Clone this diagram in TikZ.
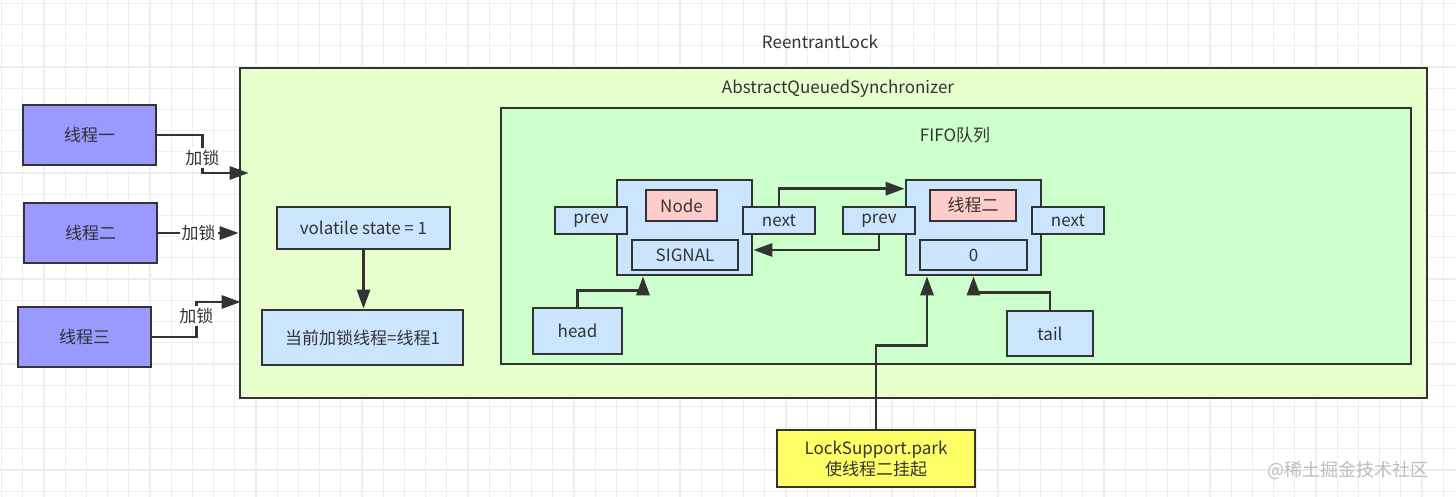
\documentclass[tikz,border=0pt]{standalone}
\usepackage{fontspec}
\setmainfont{Noto Sans CJK SC}
\usetikzlibrary{arrows.meta}
\definecolor{linec}{HTML}{333333}
\definecolor{textc}{HTML}{333333}
\definecolor{gridc}{HTML}{EDEDED}
\definecolor{thrf}{HTML}{9999FF}
\definecolor{aqsf}{HTML}{E6FFCC}
\definecolor{fifof}{HTML}{CCFFCC}
\definecolor{bluef}{HTML}{CCE5FF}
\definecolor{pinkf}{HTML}{FFCCCC}
\definecolor{yelf}{HTML}{FFFF66}
\definecolor{wmc}{HTML}{BDBDBD}
\tikzset{
  box/.style={draw=linec, line width=1.3pt, text=textc, inner sep=0pt, font=\fontsize{8.5pt}{10.5pt}\selectfont},
  lbl/.style={text=textc, inner sep=0pt, font=\fontsize{8.5pt}{10.5pt}\selectfont},
  arr/.style={draw=linec, line width=1.4pt, -{Triangle[length=9.5pt,width=6.5pt]}},
  lockl/.style={lbl, fill=white, inner sep=1pt},
}
\begin{document}
\begin{tikzpicture}[x=0.5pt,y=-0.5pt]
\useasboundingbox (0,0) rectangle (1456,497);
\clip (0,0) rectangle (1456,497);
\fill[white] (0,0) rectangle (1456,497);
\foreach \i in {0,...,68} {
  \draw[gridc, line width=0.6pt] ({1.5+21.2*\i},0) -- ({1.5+21.2*\i},497);
}
\foreach \j in {0,...,23} {
  \draw[gridc, line width=0.6pt] (0,{3.5+21.2*\j}) -- (1456,{3.5+21.2*\j});
}
% labels
\node[lbl] (rl) at (820,42) {ReentrantLock};
% containers
\node[box, fill=aqsf, draw=linec, minimum width=593.5pt, minimum height=165pt] (AQS) at (833.5,233) {};
\node[lbl] (aqsl) at (838,89) {AbstractQueuedSynchronizer};
\node[box, fill=fifof, minimum width=455pt, minimum height=128pt] (FIFO) at (956,236) {};
\node[lbl] (fifol) at (955,135) {FIFO队列};
% threads
\node[box, fill=thrf, minimum width=66.5pt, minimum height=30pt] (T1) at (89.5,135) {线程一};
\node[box, fill=thrf, minimum width=66.5pt, minimum height=30pt] (T2) at (90.5,233) {线程二};
\node[box, fill=thrf, minimum width=66.5pt, minimum height=30pt] (T3) at (84.5,337) {线程三};
% state
\node[box, fill=bluef, minimum width=86.5pt, minimum height=21pt] (vol) at (363.5,228) {volatile state = 1};
\node[box, fill=bluef, minimum width=100.5pt, minimum height=27.5pt] (cur) at (362.5,337.5) {当前加锁线程=线程1};
% node 1
\node[box, fill=bluef, minimum width=67.5pt, minimum height=47.5pt] (N1) at (684.5,227.5) {};
\node[box, fill=pinkf, minimum width=35.5pt, minimum height=15.5pt] (N1n) at (681.5,205.5) {Node};
\node[box, fill=bluef, minimum width=53pt, minimum height=15pt] (SIG) at (685,255) {SIGNAL};
\node[box, fill=bluef, minimum width=36pt, minimum height=13.5pt] (prev1) at (591,220.5) {prev};
\node[box, fill=bluef, minimum width=36pt, minimum height=13.5pt] (next1) at (779,220.5) {next};
% node 2
\node[box, fill=bluef, minimum width=67.5pt, minimum height=47.5pt] (N2) at (973.5,227.5) {};
\node[box, fill=pinkf, minimum width=43pt, minimum height=15.5pt] (N2n) at (973,205.5) {线程二};
\node[box, fill=bluef, minimum width=53.5pt, minimum height=15pt] (zero) at (973.5,255) {0};
\node[box, fill=bluef, minimum width=36pt, minimum height=13.5pt] (prev2) at (879,220.5) {prev};
\node[box, fill=bluef, minimum width=36pt, minimum height=13.5pt] (next2) at (1068,220.5) {next};
% head / tail
\node[box, fill=bluef, minimum width=44.5pt, minimum height=23pt] (head) at (577.5,331) {head};
\node[box, fill=bluef, minimum width=43pt, minimum height=22.5pt] (tail) at (1050,333.5) {tail};
% LockSupport
\node[box, fill=yelf, minimum width=99pt, minimum height=28.5pt, align=center] (LS) at (876,458.5) {LockSupport.park\\使线程二挂起};
% watermark
\node[text=wmc, inner sep=0pt, font=\fontsize{9pt}{10pt}\selectfont] (wm) at (1348,470) {@稀土掘金技术社区};
% connector end points
\coordinate (t1end) at ([xshift=5pt,yshift=30pt]AQS.west);
\coordinate (t3end) at ([xshift=1pt,yshift=-34.5pt]AQS.west);
% thread arrows
\draw[arr] (T1.east) -- ++(45,0) |- (t1end) node[lockl, pos=0.3] {加锁};
\draw[arr] (T2.east) -- (T2.east -| AQS.west) node[lockl, midway] {加锁};
\draw[arr] (T3.east) -- ++(44,0) |- (t3end) node[lockl, pos=0.3] {加锁};
% state arrow
\draw[arr] (vol.south) -- (vol.south |- cur.north);
% queue links
\draw[arr] (next1.north) |- ([yshift=-5pt]N2.north west);
\draw[arr] (prev2.south) |- ([yshift=-11.25pt]N1.east);
\draw[arr] (head.north) -- ++(0,-16) -| ([xshift=-20.75pt]N1.south);
\draw[arr] (tail.north) -- ++(0,-17) -| (N2.south);
\draw[arr] (LS.north) -- ++(0,-83) -| ([xshift=-23.25pt]N2.south);
\end{tikzpicture}
\end{document}
